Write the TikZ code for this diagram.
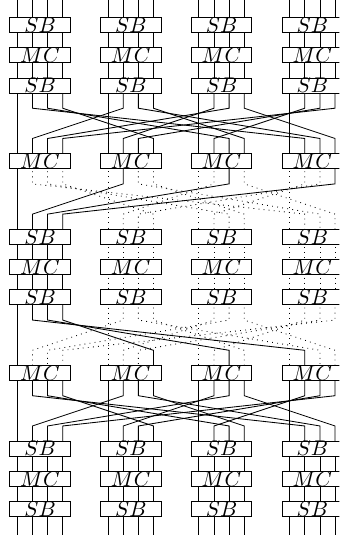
\documentclass[tikz,border=0pt]{standalone}
\usepackage{tikz}
\tikzset{
  opbox/.style={draw, fill=white, minimum width=1cm, minimum height=0.25cm, inner sep=0pt},
  wire/.style={line width=0.4pt},
  idle/.style={line width=0.4pt, dotted}
}
% one row of four boxes: #1 = y, #2 = name, #3 = label
\newcommand{\oprow}[3]{%
  \foreach \c in {0,...,3}
    \node[opbox] (#2-\c) at ({3*\c+0.75},#1) {$#3$};}
% straight wires: #1 = from y, #2 = to y, #3 = columns, #4 = style
\newcommand{\runwires}[4]{%
  \foreach \c in {#3} \foreach \r in {0,...,3}
    \draw[#4] ({3*\c+0.5*\r},#1) -- ({3*\c+0.5*\r},#2);}
% shift rows between layer at #1 and the next; #2 says which paths stay solid
\newcommand{\shiftrows}[2]{%
  \foreach \c in {0,...,3} \foreach \r in {0,...,3} {
    \pgfmathtruncatemacro{\d}{mod(\c-\r+4,4)}
    \pgfmathtruncatemacro{\on}{#2}
    \ifnum\on=1 \def\wstyle{wire}\else\def\wstyle{idle}\fi
    \draw[\wstyle] ({3*\c+0.5*\r},#1) -- ++(0,-0.75)
      -- ({3*\d+0.5*\r},#1-1.75) -- ++(0,-0.75);}}

\begin{document}
\begin{tikzpicture}[x=0.5cm, y=0.5cm]
  \useasboundingbox (-0.572,0.826) rectangle (10.642,-16.853);
  \clip (-0.572,0.826) rectangle (10.642,-16.853);
  % wires
  \runwires{1}{-2}{0,...,3}{wire}
  \shiftrows{-2}{1}
  \shiftrows{-4.5}{\d==0}
  \runwires{-7}{-9}{1,2,3}{idle}
  \runwires{-7}{-9}{0}{wire}
  \shiftrows{-9}{\c==0}
  \shiftrows{-11.5}{1}
  \runwires{-14}{-17.5}{0,...,3}{wire}
  % boxes
  \oprow{0}{sb1}{SB}
  \oprow{-1}{mc1}{MC}
  \oprow{-2}{sb2}{SB}
  \oprow{-4.5}{mc2}{MC}
  \oprow{-7}{sb3}{SB}
  \oprow{-8}{mc3}{MC}
  \oprow{-9}{sb4}{SB}
  \oprow{-11.5}{mc4}{MC}
  \oprow{-14}{sb5}{SB}
  \oprow{-15}{mc5}{MC}
  \oprow{-16}{sb6}{SB}
\end{tikzpicture}
\end{document}
